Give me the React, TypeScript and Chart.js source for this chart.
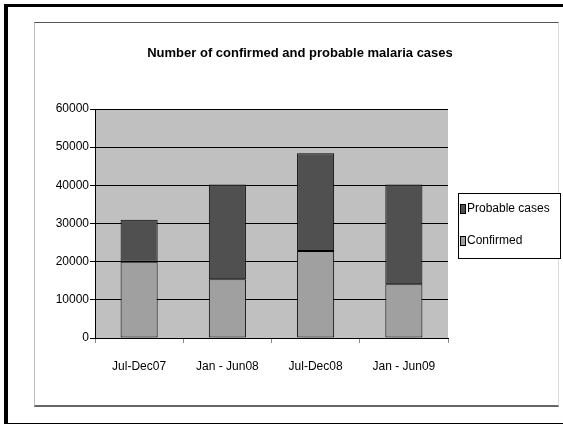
import React, { useEffect, useRef } from "react";
import { Chart, registerables } from "chart.js";

Chart.register(...registerables);

const categories = ["Jul-Dec07", "Jan - Jun08", "Jul-Dec08", "Jan - Jun09"];
const confirmed = [20000, 15400, 22800, 14100];
const probable = [11000, 24800, 25600, 26100];
const yTicks = [0, 10000, 20000, 30000, 40000, 50000, 60000];
const titleText = "Number of confirmed and probable malaria cases";
const seriesLabels = ["Confirmed", "Probable cases"];

const FONT = "'Liberation Sans', Arial, sans-serif";

const plotBg = {
  id: "plotBg",
  beforeDraw(chart: any) {
    const { ctx, chartArea: a } = chart;
    ctx.save();
    ctx.fillStyle = "#c0c0c0";
    ctx.fillRect(a.left, a.top, a.right - a.left, a.bottom - a.top);
    ctx.restore();
  },
};

const boxTitle = {
  id: "boxTitle",
  afterDraw(chart: any) {
    const { ctx } = chart;
    ctx.save();
    ctx.fillStyle = "#000";
    ctx.font = `bold 13px ${FONT}`;
    ctx.textAlign = "center";
    ctx.textBaseline = "middle";
    ctx.fillText(titleText, 300, 53);
    ctx.restore();
  },
};

const boxLegend = {
  id: "boxLegend",
  afterDraw(chart: any) {
    const { ctx, chartArea: a } = chart;
    const x = a.right + 10;
    const w = 102;
    const h = 65;
    const y = Math.round((a.top + a.bottom) / 2 - h / 2 + 2);
    ctx.save();
    ctx.fillStyle = "#ffffff";
    ctx.fillRect(x, y, w, h);
    ctx.strokeStyle = "#000";
    ctx.lineWidth = 1;
    ctx.strokeRect(x + 0.5, y + 0.5, w, h);
    const ds = chart.data.datasets.slice().reverse();
    ds.forEach((d: any, i: number) => {
      const cy = y + 16 + i * 32;
      ctx.fillStyle = d.backgroundColor;
      ctx.fillRect(x + 2, cy - 5, 6, 10);
      ctx.strokeStyle = "#000";
      ctx.strokeRect(x + 2.5, cy - 4.5, 5, 9);
      ctx.fillStyle = "#000";
      ctx.font = `12px ${FONT}`;
      ctx.textBaseline = "middle";
      ctx.textAlign = "left";
      ctx.fillText(d.label, x + 9, cy);
    });
    ctx.restore();
  },
};

export default function App() {
  const ref = useRef<HTMLCanvasElement | null>(null);

  useEffect(() => {
    document.body.style.margin = "0";
    const chart = new Chart(ref.current as HTMLCanvasElement, {
      type: "bar",
      data: {
        labels: categories,
        datasets: [
          {
            label: seriesLabels[0],
            data: confirmed,
            backgroundColor: "#a0a0a0",
            borderColor: "#000",
            borderWidth: 1,
            borderSkipped: false,
            barPercentage: 0.42,
            categoryPercentage: 1,
          },
          {
            label: seriesLabels[1],
            data: probable,
            backgroundColor: "#505050",
            borderColor: "#000",
            borderWidth: 1,
            borderSkipped: false,
            barPercentage: 0.42,
            categoryPercentage: 1,
          },
        ],
      },
      options: {
        animation: false,
        responsive: false,
        layout: { padding: { left: 36, right: 115, top: 109, bottom: 0 } },
        plugins: {
          legend: { display: false },
          tooltip: { enabled: false },
          title: { display: false },
        },
        scales: {
          x: {
            stacked: true,
            offset: true,
            grid: { offset: true, drawOnChartArea: false, tickLength: 5, color: "#888" },
            border: { color: "#000", width: 1 },
            ticks: { color: "#000", font: { family: FONT, size: 12 }, padding: 16, maxRotation: 0 },
            afterFit: (s: any) => { s.height = 86; },
          },
          y: {
            stacked: true,
            min: 0,
            max: 60000,
            afterBuildTicks: (s: any) => { s.ticks = yTicks.map((v) => ({ value: v })); },
            grid: { color: "#000", tickLength: 5 },
            border: { color: "#000", width: 1 },
            ticks: {
              color: "#000",
              font: { family: FONT, size: 12 },
              padding: 1,
              callback: (v: any) => String(v),
            },
            afterFit: (s: any) => { s.width = 59; },
          },
        },
      },
      plugins: [plotBg, boxTitle, boxLegend],
    } as any);
    return () => chart.destroy();
  }, []);

  return (
    <div style={{ position: "relative", width: 563, height: 424, overflow: "hidden", background: "#fff" }}>
      <div style={{ position: "absolute", left: 4, top: 4, width: 600, height: 416, borderLeft: "4px solid #000", borderTop: "3px solid #000", borderBottom: "2px solid #000" }} />
      <div style={{ position: "absolute", left: 34, top: 22, width: 523, height: 382, borderTop: "1px solid #555", borderLeft: "1px solid #bbb", borderRight: "1px solid #ddd", borderBottom: "2px solid #666" }} />
      <canvas ref={ref} width={563} height={424} style={{ position: "absolute", left: 0, top: 0 }} />
    </div>
  );
}
